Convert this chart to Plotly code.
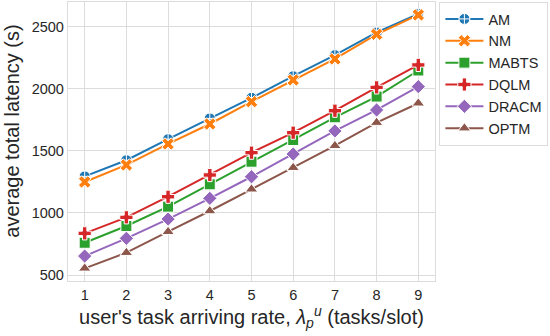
import plotly.graph_objects as go

rates = [1, 2, 3, 4, 5, 6, 7, 8, 9]

am = [1295, 1425, 1595, 1762, 1928, 2102, 2272, 2455, 2603]
nm = [1250, 1387, 1556, 1717, 1897, 2072, 2241, 2440, 2596]
mabts = [760, 895, 1051, 1231, 1413, 1588, 1771, 1938, 2148]
dqlm = [836, 965, 1131, 1306, 1486, 1647, 1824, 2012, 2193]
dracm = [653, 796, 951, 1118, 1292, 1475, 1661, 1830, 2018]
optm = [554, 680, 849, 1016, 1191, 1365, 1542, 1728, 1884]

series = [
    ("AM", am, "#1f77b4", "circle-cross"),
    ("NM", nm, "#ff7f0e", "x"),
    ("MABTS", mabts, "#2ca02c", "square"),
    ("DQLM", dqlm, "#d62728", "cross"),
    ("DRACM", dracm, "#9467bd", "diamond"),
    ("OPTM", optm, "#8c564b", "triangle-up"),
]

y_ticks = [500, 1000, 1500, 2000, 2500]

TEXT = "#262626"
GRID = "#dcdcdc"

fig = go.Figure()
for name, vals, color, symbol in series:
    fig.add_trace(go.Scatter(
        x=rates, y=vals, mode="lines+markers", name=name,
        line=dict(color=color, width=2),
        marker=dict(symbol=symbol, size=11, color=color,
                    line=dict(color="white", width=1)),
    ))

fig.update_layout(
    width=550, height=336,
    font=dict(family="Liberation Sans, Arial, sans-serif", size=14, color=TEXT),
    plot_bgcolor="white", paper_bgcolor="white",
    margin=dict(l=68, r=115, t=2, b=55),
    legend=dict(x=1.012, y=1.0, xanchor="left", yanchor="top",
                bordercolor=GRID, borderwidth=1, font=dict(size=14.5),
                tracegroupgap=0, itemwidth=38, entrywidth=100),
    xaxis=dict(
        range=[0.6, 9.4], tickvals=rates, showgrid=True, gridcolor=GRID,
        gridwidth=1.3, showline=True, linecolor=GRID, linewidth=1.3,
        mirror=True, zeroline=False, ticks="", tickfont=dict(size=14.5),
        automargin=False,
        title=dict(text="user's task arriving rate, <i>λ</i><sub><i>p</i></sub><sup><i>u</i></sup> (tasks/slot)",
                   font=dict(size=20), standoff=4),
    ),
    yaxis=dict(
        range=[452, 2700], tickvals=y_ticks, showgrid=True, gridcolor=GRID,
        gridwidth=1.3, showline=True, linecolor=GRID, linewidth=1.3,
        mirror=True, zeroline=False, ticks="", tickfont=dict(size=14.5),
        automargin=False,
    ),
)

# y title as annotation: in the original it sits a bit above the plot centre
fig.add_annotation(text="average total latency (s)", textangle=-90,
                   xref="paper", yref="paper", x=-0.153, y=0.538,
                   xanchor="center", yanchor="middle", showarrow=False,
                   font=dict(size=20))

# page body has a default 8px margin; drop it so the figure sits at 0,0
fig.write_html("out.html", config={"displayModeBar": False},
               post_script="document.body.style.margin='0';")
